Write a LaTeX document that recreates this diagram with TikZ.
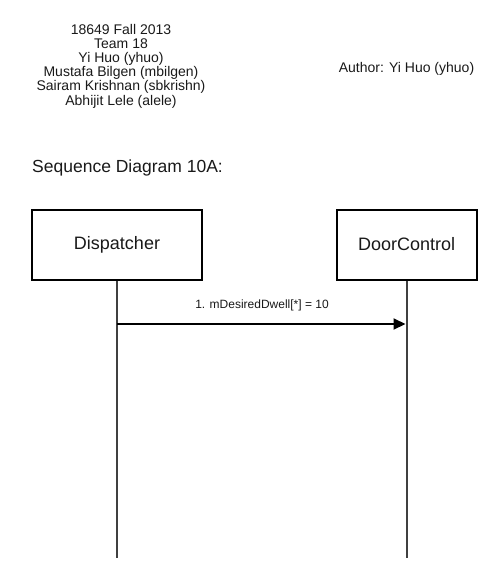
\documentclass[tikz,border=0pt]{standalone}
\usepackage{fontspec}
\setmainfont{Liberation Sans}
\usetikzlibrary{arrows.meta}
\begin{document}
\begin{tikzpicture}[x=1pt,y=-1pt,
  txt/.style={inner sep=0pt,font=\fontsize{14}{14.2}\selectfont,text=black!90},
  actor/.style={draw=black,line width=2pt,minimum width=170pt,minimum height=70pt,inner sep=0pt,font=\fontsize{18}{20}\selectfont,text=black!90},
  lifeline/.style={draw=black!75,line width=2.4pt},
  msg/.style={draw=black,line width=2pt,-{Triangle[length=12pt,width=11pt]}},
  msglabel/.style={inner sep=0pt,font=\fontsize{12}{14}\selectfont,text=black!90}]
\useasboundingbox (0,0) rectangle (500,583);
\node[txt,align=center] (hdr) at (121,66) {18649 Fall 2013\\Team 18\\Yi Huo (yhuo)\\Mustafa Bilgen (mbilgen)\\Sairam Krishnan (sbkrishn)\\Abhijit Lele (alele)};
\node[txt] (author) at (406.5,69) {Author: Yi Huo (yhuo)};
\node[txt,anchor=west,font=\fontsize{17.5}{20}\selectfont] (title) at (32,168) {Sequence Diagram 10A:};
\node[actor] (disp) at (117,244.5) {Dispatcher};
\node[actor,minimum width=140pt] (door) at (406.7,244.5) {DoorControl};
\coordinate (dend) at (117,558);
\coordinate (cend) at (406.7,558);
\draw[lifeline] (disp.south) -- (dend);
\draw[lifeline] (door.south) -- (cend);
\coordinate (m1s) at (117,324);
\coordinate (m1e) at (405.5,324);
\draw[msg] (m1s) -- (m1e);
\node[msglabel] (m1l) at (262,305) {1. mDesiredDwell[*] = 10};
\end{tikzpicture}
\end{document}
